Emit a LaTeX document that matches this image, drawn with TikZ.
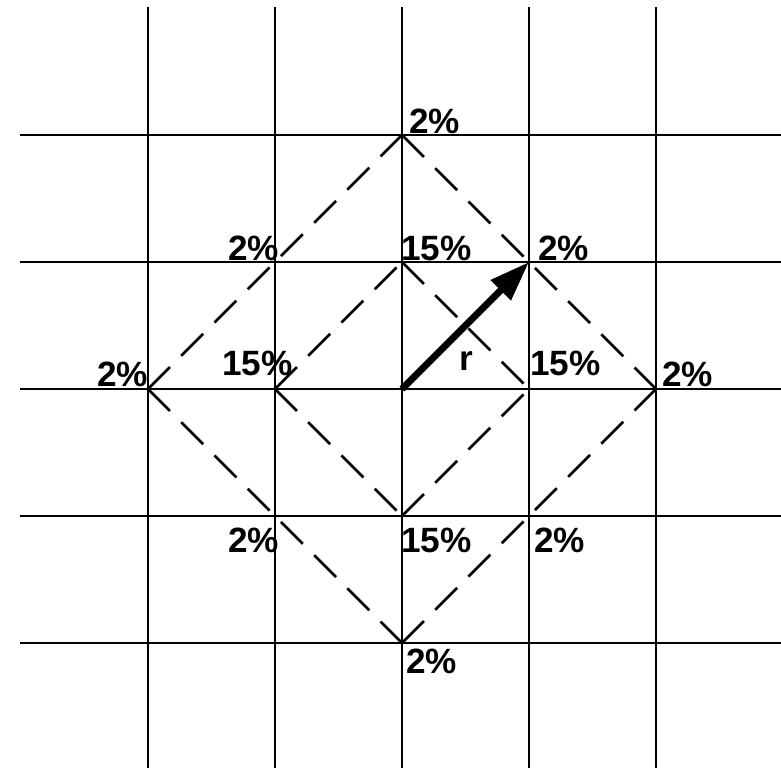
\documentclass[tikz,border=0pt]{standalone}
\usepackage{fontspec}
\setmainfont{Liberation Sans}
\usetikzlibrary{arrows.meta}
\begin{document}
\begin{tikzpicture}[x=0.02cm,y=-0.02cm,
  gridline/.style={line width=0.05cm,black},
  dashline/.style={line width=0.052cm,black,dash pattern=on 0.62cm off 0.32cm},
  rarrow/.style={line width=0.14cm,-{Triangle[length=0.8cm,width=0.54cm]}},
  lbl/.style={anchor=base west,inner sep=0pt,font=\fontsize{20}{24}\selectfont\bfseries}]
\useasboundingbox (0,0) rectangle (781,768);
% grid
\foreach \x in {148,275,402,529,656}{\draw[gridline] (\x,7) -- (\x,768);}
\foreach \y in {135,262,389,516,643}{\draw[gridline] (20,\y) -- (781,\y);}
% named points
\coordinate (C) at (402,389);
\coordinate (oT) at (402,135);
\coordinate (oR) at (656,389);
\coordinate (oB) at (402,643);
\coordinate (oL) at (148,389);
\coordinate (iT) at (402,262);
\coordinate (iR) at (529,389);
\coordinate (iB) at (402,516);
\coordinate (iL) at (275,389);
\coordinate (NE) at (529,262);
% diamonds
\draw[dashline] (oL) -- (oT);
\draw[dashline] (oT) -- (oR);
\draw[dashline] (oB) -- (oR);
\draw[dashline] (oL) -- (oB);
\draw[dashline] (iL) -- (iT);
\draw[dashline] (iT) -- (iR);
\draw[dashline] (iB) -- (iR);
\draw[dashline] (iL) -- (iB);
% arrow
\draw[rarrow] (C) -- (NE);
% labels
\node[lbl] (l1) at (409,133) {2\%};
\node[lbl] (l2) at (401,260) {15\%};
\node[lbl] (l3) at (538,260) {2\%};
\node[lbl] (l4) at (228,260) {2\%};
\node[lbl] (l5) at (97,386) {2\%};
\node[lbl] (l6) at (222,375) {15\%};
\node[lbl] (l7) at (459,370) {r};
\node[lbl] (l8) at (530,375) {15\%};
\node[lbl] (l9) at (662,386) {2\%};
\node[lbl] (l10) at (228,552) {2\%};
\node[lbl] (l11) at (401,552) {15\%};
\node[lbl] (l12) at (534,552) {2\%};
\node[lbl] (l13) at (406,673) {2\%};
\end{tikzpicture}
\end{document}
